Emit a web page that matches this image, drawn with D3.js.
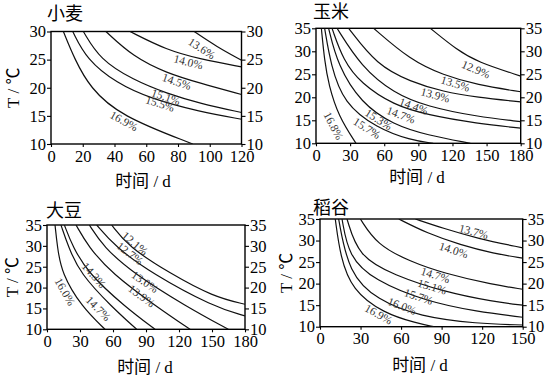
<!DOCTYPE html>
<html>
<head>
<meta charset="utf-8">
<script src="https://cdn.jsdelivr.net/npm/d3@7"></script>
<style>
  body { margin: 0; background: #fff; }
  svg { display: block; }
</style>
</head>
<body>
<script>
// ---------- data ----------
// wheat
var wheatXTicks = [0, 20, 40, 60, 80, 100, 120];
var wheatYTicks = [10, 15, 20, 25, 30];
var wheatLabels = ['16.9%', '15.5%', '15.1%', '14.5%', '14.0%', '13.6%'];
var wheatCurves = [
  [[7.8, 30], [15, 25], [24.6, 20], [43.5, 15], [89.3, 10]],
  [[13.7, 30], [22.5, 25], [41.4, 20.8], [62.4, 18.1], [94, 15.7], [120, 14.4]],
  [[20.4, 30], [30.9, 25], [51.8, 21.4], [72.9, 19.0], [94, 17.2], [120, 15.6]],
  [[34.6, 30], [51.8, 25.5], [72.9, 22.6], [94, 20.8], [120, 18.8]],
  [[49.8, 30], [72.9, 26.7], [94, 25.1], [120, 23.7]],
  [[90.2, 30], [104.4, 27.3], [120, 24.9]]
];
var wheatLabelAt = [[46, 14.1], [68.7, 17.2], [72.4, 18.4], [79.2, 21.1], [86.5, 24.6], [95, 27.0]];

// corn
var cornXTicks = [0, 30, 60, 90, 120, 150, 180];
var cornYTicks = [10, 15, 20, 25, 30, 35];
var cornLabels = ['16.8%', '15.7%', '15.3%', '14.7%', '14.4%', '13.9%', '13.5%', '12.9%'];
var cornCurves = [
  [[4.7, 35], [7.5, 28], [11.1, 22.7], [19.9, 15.8], [35.2, 10]],
  [[7.6, 35], [13, 27], [24.3, 18.7], [53.6, 13.3], [83, 10.7], [103, 10]],
  [[11.1, 35], [19, 27], [39.6, 18.7], [68.3, 14.0], [97.6, 11.8], [135.7, 10]],
  [[14.1, 35], [24, 28], [39.6, 23.0], [68.3, 18.3], [97.6, 16.2], [141.6, 14.3], [180, 13.3]],
  [[18.5, 35], [39.6, 26.7], [68.3, 20.9], [97.6, 18.0], [141.6, 15.8], [180, 14.7]],
  [[28.7, 35], [53.6, 27.0], [83, 23.4], [112, 21.2], [141.6, 20.0], [180, 19.0]],
  [[50.7, 35], [83, 28.1], [112, 24.8], [141.6, 22.7], [180, 21.2]],
  [[100.5, 35], [124, 30.3], [141.6, 27.7], [180, 24.6]]
];
var cornLabelAt = [[15.5, 13.8], [44.9, 13.3], [55.1, 15.2], [74.8, 16.2], [85.9, 18.1], [104.9, 20.5], [122.5, 23.0], [140.7, 26.1]];

// soybean
var soyXTicks = [0, 30, 60, 90, 120, 150, 180];
var soyYTicks = [10, 15, 20, 25, 30, 35];
var soyLabels = ['16.0%', '14.7%', '14.3%', '13.9%', '13.0%', '12.7%', '12.1%'];
var soyCurves = [
  [[7.3, 35], [9.4, 29.8], [13.3, 23.4], [31.5, 15.4], [52.7, 10]],
  [[12.7, 35], [19.4, 29.8], [30, 23.4], [58.8, 15.4], [81.5, 10]],
  [[15.8, 35], [23.3, 29.8], [37.6, 23.4], [70.9, 15.4], [98.2, 10]],
  [[26.4, 35], [37.6, 29.8], [58.8, 23.4], [99.7, 15.4], [130, 10]],
  [[38.5, 35], [51.2, 29.8], [78.5, 23.4], [127, 15.4], [164.8, 10]],
  [[45.2, 35], [62, 29.8], [95.2, 23.4], [151.2, 15.4], [180, 13.2]],
  [[58.8, 35], [73.9, 29.8], [111.8, 23.4], [151.2, 17.8], [180, 16.0]]
];
var soyLabelAt = [[16.4, 19.0], [46.7, 15.0], [42.7, 23.0], [86.1, 18.0], [89.1, 21.4], [75.5, 28.2], [80, 30.6]];

// rice
var riceXTicks = [0, 30, 60, 90, 120, 150];
var riceYTicks = [10, 15, 20, 25, 30, 35];
var riceLabels = ['16.9%', '16.0%', '15.7%', '15.1%', '14.7%', '14.0%', '13.7%'];
var riceCurves = [
  [[11.3, 35], [15.0, 26.3], [23.7, 18.5], [47.1, 13.1], [71.8, 10.8], [84.1, 10]],
  [[13.8, 35], [21.2, 22.4], [42.2, 16.2], [74.2, 12.3], [116.2, 10.7], [150, 10.4]],
  [[16.3, 35], [21.2, 26.3], [39.7, 20.8], [79.2, 15.8], [116.2, 13.5], [150, 12.2]],
  [[20.0, 35], [28.4, 26.3], [54.5, 22.0], [91.5, 18.1], [128.5, 15.8], [150, 15.0]],
  [[29.9, 35], [42.2, 29.0], [66.9, 25.1], [91.5, 22.4], [128.5, 19.7], [150, 18.7]],
  [[58.3, 35], [79.2, 31.7], [103.9, 29.0], [128.5, 27.0], [150, 25.9]],
  [[70.6, 35], [91.5, 32.8], [116.2, 30.5], [150, 28.3]]
];
var riceLabelAt = [[43.4, 12.9], [60.7, 14.8], [73.0, 17.0], [82.9, 19.3], [85.4, 22.0], [98.9, 27.8], [113.7, 32.1]];

// ---------- layout ----------
var W = 554, H = 378;
var serif = '"Liberation Serif", "Times New Roman", serif';
var cjk = '"Noto Sans CJK SC", sans-serif';

var panels = [
  { title: '小麦', xTicks: wheatXTicks, yTicks: wheatYTicks, curves: wheatCurves, labels: wheatLabels, labelAt: wheatLabelAt,
    box: [51, 31.5, 241.5, 144], titleXY: [47, 20], yTitleX: 13, xTitleXY: [143, 187] },
  { title: '玉米', xTicks: cornXTicks, yTicks: cornYTicks, curves: cornCurves, labels: cornLabels, labelAt: cornLabelAt,
    box: [316, 28.3, 520.7, 143.3], titleXY: [313, 18], yTitleX: 282, xTitleXY: [417, 183], clipLeft: 277 },
  { title: '大豆', xTicks: soyXTicks, yTicks: soyYTicks, curves: soyCurves, labels: soyLabels, labelAt: soyLabelAt,
    box: [47, 225, 245, 329.3], titleXY: [46, 217], yTitleX: 12, xTitleXY: [145, 373] },
  { title: '稻谷', xTicks: riceXTicks, yTicks: riceYTicks, curves: riceCurves, labels: riceLabels, labelAt: riceLabelAt,
    box: [320, 219, 522.7, 326.7], titleXY: [313, 214], yTitleX: 286, xTitleXY: [420, 371] }
];

var svg = d3.select('body').append('svg')
    .attr('width', W)
    .attr('height', H)
    .style('background', '#fff');

var defs = svg.append('defs');

panels.forEach(function (p, i) {
  var x0 = p.box[0], y0 = p.box[1], x1 = p.box[2], y1 = p.box[3];
  var xscale = d3.scaleLinear().domain([p.xTicks[0], p.xTicks[p.xTicks.length - 1]]).range([x0, x1]);
  var yscale = d3.scaleLinear().domain([p.yTicks[0], p.yTicks[p.yTicks.length - 1]]).range([y1, y0]);
  var g = svg.append('g');

  //clip for curves
  defs.append('clipPath').attr('id', 'clip' + i)
    .append('rect').attr('x', x0).attr('y', y0).attr('width', x1 - x0).attr('height', y1 - y0);

  //axes
  var styleAxis = function (sel) {
    sel.select('.domain').remove();
    sel.selectAll('line').attr('stroke', '#000').attr('stroke-width', 1.1);
    sel.selectAll('text').attr('fill', '#000').style('font-family', serif).style('font-size', '16.5px');
  };
  g.append('g').attr('transform', 'translate(' + x0 + ',0)')
    .call(d3.axisLeft(yscale).tickValues(p.yTicks).tickSize(4).tickPadding(1))
    .call(styleAxis);
  g.append('g').attr('transform', 'translate(' + x1 + ',0)')
    .call(d3.axisRight(yscale).tickValues(p.yTicks).tickSize(4).tickPadding(1))
    .call(styleAxis);
  g.append('g').attr('transform', 'translate(0,' + y1 + ')')
    .call(d3.axisBottom(xscale).tickValues(p.xTicks).tickSize(3).tickPadding(3))
    .call(styleAxis);

  //frame
  g.append('rect')
    .attr('x', x0).attr('y', y0).attr('width', x1 - x0).attr('height', y1 - y0)
    .attr('fill', 'none').attr('stroke', '#000').attr('stroke-width', 1.4);

  //curves
  var line = d3.line()
    .x(function (d) { return xscale(d[0]); })
    .y(function (d) { return yscale(d[1]); })
    .curve(d3.curveBasis);
  var paths = g.append('g').attr('clip-path', 'url(#clip' + i + ')')
    .selectAll('path').data(p.curves).enter().append('path')
      .attr('d', line)
      .attr('fill', 'none')
      .attr('stroke', '#111')
      .attr('stroke-width', 1.2);

  //labels, rotated along the curve
  p.labels.forEach(function (lab, k) {
    var node = paths.nodes()[k];
    var lx = xscale(p.labelAt[k][0]), ly = yscale(p.labelAt[k][1]);
    var len = node.getTotalLength(), best = 0, bestD = 1e9;
    for (var s = 0; s <= len; s += 0.5) {
      var pt = node.getPointAtLength(s);
      var dd = (pt.x - lx) * (pt.x - lx) + (pt.y - ly) * (pt.y - ly);
      if (dd < bestD) { bestD = dd; best = s; }
    }
    var a = node.getPointAtLength(Math.max(0, best - 4)), b = node.getPointAtLength(Math.min(len, best + 4));
    var ang = Math.atan2(b.y - a.y, b.x - a.x) * 180 / Math.PI;
    g.append('text')
      .attr('transform', 'translate(' + lx + ',' + ly + ') rotate(' + ang + ')')
      .attr('text-anchor', 'middle')
      .attr('dy', '0.35em')
      .style('font-family', serif)
      .style('font-size', '11.5px')
      .attr('fill', '#333')
      .text(lab);
  });

  //titles
  g.append('text')
    .attr('x', p.titleXY[0]).attr('y', p.titleXY[1])
    .style('font-family', cjk).style('font-size', '18px')
    .text(p.title);

  var ytitle = g.append('text')
    .attr('transform', 'translate(' + p.yTitleX + ',' + ((y0 + y1) / 2) + ') rotate(-90)')
    .attr('text-anchor', 'middle')
    .attr('dy', '0.35em')
    .style('font-family', serif + ', ' + cjk)
    .style('font-size', '17px')
    .text('T / ℃');
  if (p.clipLeft) {
    defs.append('clipPath').attr('id', 'yclip' + i)
      .append('rect').attr('x', p.clipLeft).attr('y', 0).attr('width', 40).attr('height', H);
    ytitle.attr('clip-path', 'url(#yclip' + i + ')');
  }

  var xt = g.append('text')
    .attr('x', p.xTitleXY[0]).attr('y', p.xTitleXY[1])
    .attr('text-anchor', 'middle')
    .style('font-size', '17px');
  xt.append('tspan').style('font-family', cjk).text('时间');
  xt.append('tspan').style('font-family', serif).text(' / d');
});
</script>
</body>
</html>
